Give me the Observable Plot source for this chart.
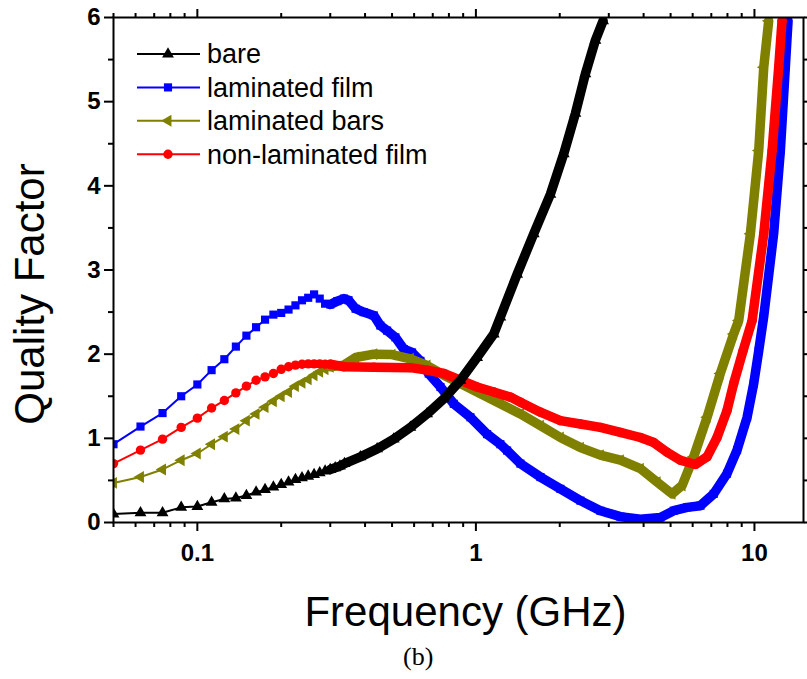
<!DOCTYPE html>
<html>
<head>
<meta charset="utf-8">
<script src="https://cdn.jsdelivr.net/npm/d3@7"></script>
<script src="https://cdn.jsdelivr.net/npm/@observablehq/plot@0.6"></script>
<style>
  body { margin: 0; background: #fff; }
  #cap { font-family: "Liberation Serif", "Times New Roman", serif; font-size: 26px; line-height: 30px; padding-left: 403px; margin-top: 2px; color: #000; }
</style>
</head>
<body>
<div id="chart"></div>
<div id="cap">(b)</div>
<script>
// ---- data ----
const seriesNames = ["bare", "laminated film", "laminated bars", "non-laminated film"];
const seriesColors = ["#000000", "#0000ff", "#808000", "#ff0000"];

const freqBare = [0.05,0.0625,0.075,0.0875,0.1,0.1125,0.125,0.1375,0.15,0.1625,0.175,0.1875,0.2,0.2125,0.225,0.2375,0.25,0.2625,0.275,0.2875,0.3,0.3125,0.325,0.3375,
  0.385,0.442,0.507,0.582,0.668,0.767,0.88,1.01,1.159,1.224,
  1.406,1.613,1.851,2.067,2.276,2.472,2.686,2.862];
const qBare = [0.10,0.115,0.115,0.18,0.19,0.24,0.28,0.29,0.32,0.36,0.39,0.42,0.45,0.48,0.51,0.53,0.55,0.57,0.59,0.61,0.63,0.65,0.67,0.70,
  0.78,0.875,0.99,1.13,1.29,1.47,1.69,1.96,2.24,2.44,
  2.95,3.43,3.90,4.38,4.86,5.33,5.73,5.96];

const freqLamFilm = [0.05,0.0625,0.075,0.0875,0.1,0.1125,0.125,0.1375,0.15,0.1625,0.175,0.1875,0.2,0.2125,0.225,0.2375,0.25,0.2625,0.275,0.2875,0.3,
  0.318,0.336,0.349,0.37,0.395,0.43,0.454,0.48,0.514,0.551,
  0.59,0.632,0.677,0.746,0.833,0.956,1.097,1.224,1.294,1.445,
  1.705,2.011,2.373,2.799,3.302,3.896,4.596,5.13,5.73,6.4,
  7.14,7.97,8.66,9.41,9.94,10.36,10.8,11.72,12.39,12.91,13.2];
const qLamFilm = [0.93,1.14,1.30,1.50,1.64,1.81,1.94,2.09,2.22,2.32,2.41,2.47,2.49,2.53,2.58,2.64,2.67,2.71,2.66,2.60,2.59,
  2.63,2.66,2.64,2.54,2.50,2.46,2.34,2.28,2.20,2.06,
  2.02,1.92,1.77,1.61,1.41,1.25,1.05,0.93,0.855,0.70,
  0.54,0.40,0.26,0.14,0.07,0.04,0.06,0.14,0.18,0.20,
  0.34,0.58,0.86,1.25,1.65,2.04,2.45,3.43,4.42,5.41,5.96];

const freqLamBars = [0.05,0.0625,0.075,0.0875,0.1,0.1125,0.125,0.1375,0.15,0.1625,0.175,0.1875,0.2,0.2125,0.225,0.2375,0.25,0.2625,0.275,0.2875,0.3,
  0.336,0.37,0.43,0.5,0.582,0.668,0.767,0.88,1.01,1.224,
  1.445,1.705,2.011,2.373,2.799,3.302,3.896,4.473,5.062,5.5,
  6.05,6.76,7.54,8.42,8.78,9.67,10.36,10.8,11.25];
const qLamBars = [0.47,0.54,0.63,0.74,0.82,0.93,1.02,1.11,1.21,1.29,1.37,1.44,1.50,1.55,1.62,1.66,1.70,1.75,1.79,1.82,1.85,
  1.87,1.96,2.00,1.995,1.945,1.865,1.75,1.65,1.55,1.41,
  1.29,1.15,1.01,0.89,0.80,0.74,0.64,0.48,0.34,0.44,
  0.78,1.25,1.77,2.24,2.40,3.43,4.42,5.41,5.96];

const freqNonLam = [0.05,0.0625,0.075,0.0875,0.1,0.1125,0.125,0.1375,0.15,0.1625,0.175,0.1875,0.2,0.2125,0.225,0.2375,0.25,0.2625,0.275,0.2875,0.3,
  0.336,0.43,0.582,0.668,0.767,0.88,1.01,1.159,1.33,1.445,
  1.705,2.011,2.373,2.799,3.302,3.896,4.35,4.857,5.42,6.14,
  6.76,7.34,7.97,8.42,9.1,9.81,10.8,11.57,12.22,12.56];
const qNonLam = [0.70,0.86,0.99,1.13,1.24,1.36,1.45,1.54,1.62,1.69,1.73,1.77,1.82,1.85,1.87,1.88,1.885,1.885,1.885,1.88,1.88,
  1.85,1.845,1.84,1.81,1.77,1.69,1.61,1.55,1.49,1.43,
  1.31,1.21,1.17,1.13,1.07,1.01,0.95,0.835,0.74,0.69,
  0.78,1.01,1.33,1.65,2.04,2.40,3.43,4.42,5.41,5.96];

const xMajorTicks = [0.1, 1, 10];
const xMinorTicks = [0.05,0.06,0.07,0.08,0.09,0.2,0.3,0.4,0.5,0.6,0.7,0.8,0.9,2,3,4,5,6,7,8,9];
const yMajorTicks = [0, 1, 2, 3, 4, 5, 6];
const yMinorTicks = [0.5, 1.5, 2.5, 3.5, 4.5, 5.5];

// ---- build tables ----
const freqs = [freqBare, freqLamFilm, freqLamBars, freqNonLam];
const qs = [qBare, qLamFilm, qLamBars, qNonLam];
const tables = freqs.map((fs, i) => fs.map((f, j) => ({series: seriesNames[i], f, q: qs[i][j]})));

const triangleLeft = {
  draw(context, size) {
    const y = Math.sqrt(size / (Math.sqrt(3) * 3));
    const s3 = Math.sqrt(3);
    context.moveTo(-2 * y, 0);
    context.lineTo(y, -s3 * y);
    context.lineTo(y, s3 * y);
    context.closePath();
  }
};
const seriesSymbols = [d3.symbolTriangle, d3.symbolSquare, triangleLeft, d3.symbolCircle];
const seriesR = [4.4, 4.6, 4.4, 4.7];
const bandStart = 0.3;
const drawOrder = [1, 2, 3, 0];

const font = "'Liberation Sans', Arial, sans-serif";

function legendMark(index, scales, values, dims) {
  const g = d3.create("svg:g")
    .attr("font-family", font)
    .attr("font-size", 27)
    .attr("text-anchor", "start")
    .attr("fill", "#000");
  seriesNames.forEach((name, i) => {
    const y = dims.marginTop + 37 + i * 33.4;
    const x0 = dims.marginLeft + 24;
    g.append("line").attr("x1", x0).attr("x2", x0 + 63).attr("y1", y).attr("y2", y)
      .attr("stroke", seriesColors[i]).attr("stroke-width", 2);
    g.append("path").attr("d", d3.symbol(seriesSymbols[i], Math.PI * seriesR[i] * seriesR[i])())
      .attr("transform", `translate(${x0 + 31},${y})`).attr("fill", seriesColors[i]);
    g.append("text").attr("x", x0 + 70).attr("y", y).attr("dy", "0.35em").attr("text-anchor", "start").text(name);
  });
  return g.node();
}

const seriesMarks = [];
for (const i of drawOrder) {
  const rows = tables[i];
  const color = seriesColors[i];
  seriesMarks.push(
    Plot.line(rows, {x: "f", y: "q", stroke: color, strokeWidth: 2, clip: true}),
    Plot.line(rows.filter(d => d.f >= bandStart), {x: "f", y: "q", stroke: color, strokeWidth: 9.5, strokeLinejoin: "round", clip: true}),
    Plot.dot(rows, {x: "f", y: "q", symbol: seriesSymbols[i], r: seriesR[i], fill: color, stroke: "none", clip: true})
  );
}

const chart = Plot.plot({
  width: 807,
  height: 640,
  marginLeft: 113,
  marginRight: 4,
  marginTop: 17,
  marginBottom: 118,
  style: {fontFamily: font, background: "#fff", color: "#000", display: "block"},
  x: {type: "log", domain: [0.05, 15]},
  y: {domain: [0, 6]},
  marks: [
    ...seriesMarks,
    Plot.frame({stroke: "#000", strokeWidth: 2}),
    Plot.axisX(xMajorTicks, {anchor: "bottom", tickSize: 9, tickPadding: 12, strokeWidth: 2, fontSize: 24, fontWeight: "bold", tickFormat: d => String(d), label: null}),
    Plot.axisX(xMinorTicks, {anchor: "bottom", tickSize: 5, strokeWidth: 2, tickFormat: () => "", label: null}),
    Plot.axisX(xMajorTicks, {anchor: "top", tickSize: 9, strokeWidth: 2, tickFormat: () => "", label: null}),
    Plot.axisX(xMinorTicks, {anchor: "top", tickSize: 5, strokeWidth: 2, tickFormat: () => "", label: null}),
    Plot.axisY(yMajorTicks, {anchor: "left", tickSize: 9, tickPadding: 4, strokeWidth: 2, fontSize: 24, fontWeight: "bold", tickFormat: d => String(d), label: null}),
    Plot.axisY(yMinorTicks, {anchor: "left", tickSize: 5, strokeWidth: 2, tickFormat: () => "", label: null}),
    Plot.axisY(yMajorTicks, {anchor: "right", tickSize: 9, strokeWidth: 2, tickFormat: () => "", label: null}),
    Plot.axisY(yMinorTicks, {anchor: "right", tickSize: 5, strokeWidth: 2, tickFormat: () => "", label: null}),
    Plot.text(["Frequency (GHz)"], {frameAnchor: "bottom", dx: 7, dy: 103, lineAnchor: "bottom", textAnchor: "middle", fontSize: 42, fill: "#000"}),
    Plot.text(["Quality Factor"], {frameAnchor: "left", dx: -70, dy: 24, rotate: -90, lineAnchor: "bottom", textAnchor: "middle", fontSize: 42, fill: "#000"}),
    legendMark
  ]
});
document.getElementById("chart").appendChild(chart);
</script>
</body>
</html>
